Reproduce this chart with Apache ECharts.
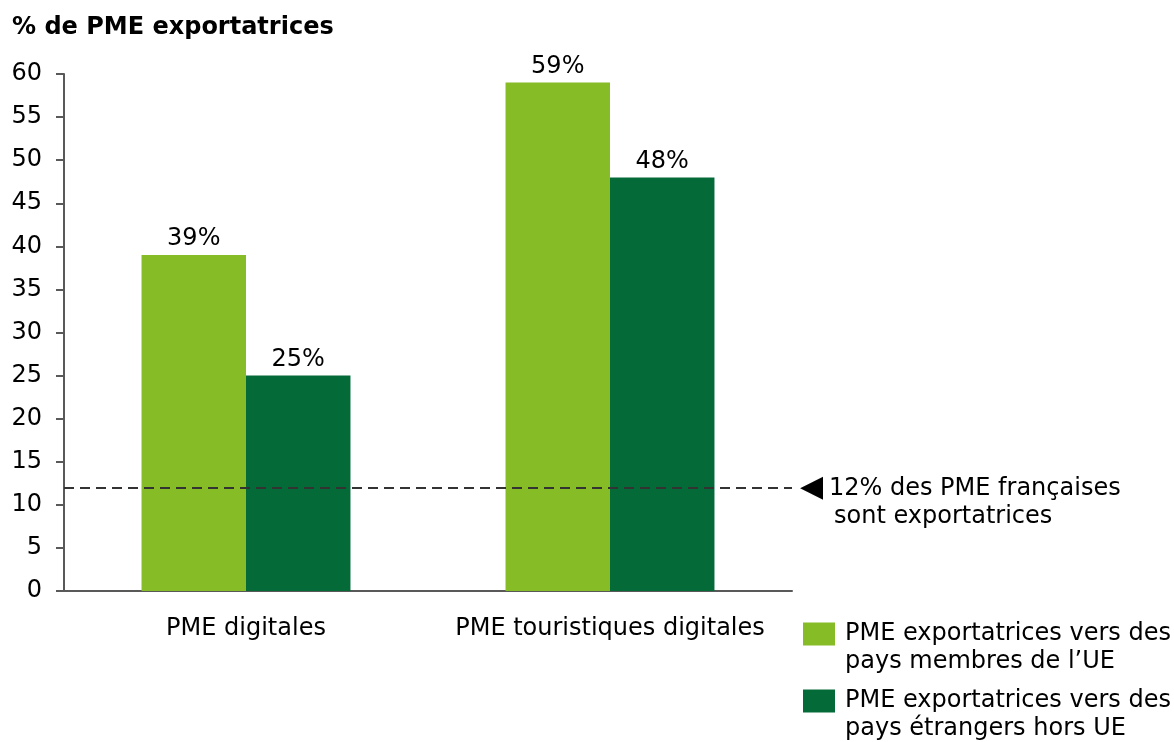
<!DOCTYPE html>
<html>
<head>
<meta charset="utf-8">
<script src="https://cdn.jsdelivr.net/npm/echarts@6/dist/echarts.min.js"></script>
<style>
  html, body { margin: 0; padding: 0; background: #fff; }
  #chart { width: 1174px; height: 742px; }
</style>
</head>
<body>
<div id="chart"></div>
<script>
// data
var categories = ['PME digitales', 'PME touristiques digitales'];
var seriesNames = [
  'PME exportatrices vers des\npays membres de l\u2019UE',
  'PME exportatrices vers des\npays \u00e9trangers hors UE'
];
var euValues = [39, 59];
var nonEuValues = [25, 48];
var nationalAverage = 12;
var averageText = ['12% des PME fran\u00e7aises', 'sont exportatrices'];

var FONT = "'DejaVu Sans', Verdana, sans-serif";
var FS = 24;
var LIGHT = '#86bc25';
var DARK = '#046a38';
var AXIS = '#595959';

var chart = echarts.init(document.getElementById('chart'));

// one legend per series; a blank first line puts the icon level with the first text line
function legendBlock(name, top) {
  return {
    data: [name],
    orient: 'vertical',
    left: 803,
    top: top,
    padding: 0,
    itemWidth: 32,
    itemHeight: 23,
    itemGap: 0,
    icon: 'rect',
    selectedMode: false,
    formatter: function (n) { return '\n' + n; },
    textStyle: {
      fontFamily: FONT,
      fontSize: FS,
      color: '#000',
      lineHeight: 28,
      padding: [0, 0, 0, 5]
    }
  };
}

var option = {
  animation: false,
  backgroundColor: '#fff',
  title: {
    text: '% de PME exportatrices',
    left: 12,
    top: 16,
    padding: 0,
    textStyle: { fontFamily: FONT, fontSize: FS, fontWeight: 'bold', color: '#000' }
  },
  legend: [
    legendBlock(seriesNames[0], 592),
    legendBlock(seriesNames[1], 659)
  ],
  grid: { left: 64, right: 382, top: 74, bottom: 151 },
  xAxis: {
    type: 'category',
    data: categories,
    axisLine: { lineStyle: { color: AXIS, width: 2 } },
    axisTick: { length: 8, lineStyle: { color: AXIS, width: 2 } },
    axisLabel: { interval: 0, fontFamily: FONT, fontSize: FS, color: '#000', margin: 26 }
  },
  yAxis: {
    type: 'value',
    min: 0,
    max: 60,
    interval: 5,
    splitLine: { show: false },
    axisLine: { show: true, lineStyle: { color: AXIS, width: 2 } },
    axisTick: { show: true, length: 8, lineStyle: { color: AXIS, width: 2 } },
    axisLabel: { fontFamily: FONT, fontSize: FS, color: '#000', margin: 22 }
  },
  series: [
    {
      name: seriesNames[0],
      type: 'bar',
      data: euValues,
      barGap: '0%',
      barCategoryGap: '42.6%',
      itemStyle: { color: LIGHT },
      label: {
        show: true, position: 'top', distance: 4,
        formatter: '{c}%', fontFamily: FONT, fontSize: FS, color: '#000'
      },
      markLine: {
        symbol: 'none',
        silent: true,
        data: [{ yAxis: nationalAverage }],
        lineStyle: { color: '#333', type: [10, 6], width: 2 },
        label: {
          show: true,
          position: 'end',
          distance: 8,
          padding: [30, 0, 0, 0],
          formatter: '{t|\u25C0}{s|' + averageText[0] + '}\n{p|}{s|' + averageText[1] + '}',
          rich: {
            t: { fontFamily: FONT, fontSize: 30, color: '#000', lineHeight: 28, width: 29 },
            s: { fontFamily: FONT, fontSize: FS, color: '#000', lineHeight: 28 },
            p: { width: 34, lineHeight: 28 }
          }
        }
      }
    },
    {
      name: seriesNames[1],
      type: 'bar',
      data: nonEuValues,
      itemStyle: { color: DARK },
      label: {
        show: true, position: 'top', distance: 4,
        formatter: '{c}%', fontFamily: FONT, fontSize: FS, color: '#000'
      }
    }
  ]
};

chart.setOption(option);
</script>
</body>
</html>
